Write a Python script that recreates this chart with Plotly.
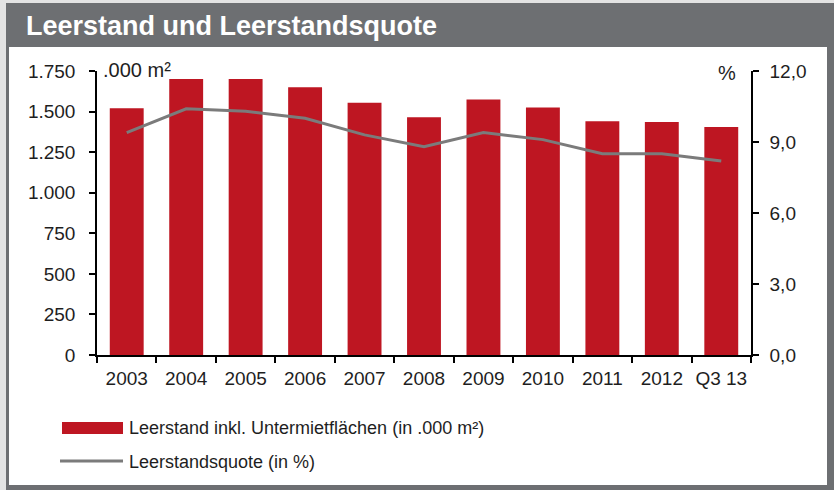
import plotly.graph_objects as go

categories = ["2003", "2004", "2005", "2006", "2007", "2008", "2009", "2010", "2011", "2012", "Q3 13"]
leerstand = [1520, 1700, 1700, 1650, 1555, 1465, 1575, 1525, 1440, 1435, 1405]
quote = [9.4, 10.4, 10.3, 10.0, 9.3, 8.8, 9.4, 9.1, 8.5, 8.5, 8.2]
left_ticks = [0, 250, 500, 750, 1000, 1250, 1500, 1750]
right_ticks = [0, 3, 6, 9, 12]

W, H = 834, 490
L, R, T, B = 97, 83, 71, 135
PW, PH = W - L - R, H - T - B

def px(x):
    return (x - L) / PW

def py(y):
    return (H - B - y) / PH

FONT = "Liberation Sans, Arial, sans-serif"
TXT = "#1e1e1e"
RED = "#be1622"
GREY = "#7b7b7b"
FRAME = "#6d6f72"
TS = 19

fig = go.Figure()
fig.add_trace(go.Bar(x=categories, y=leerstand, marker=dict(color=RED, line=dict(width=0)),
                     name="Leerstand inkl. Untermietflächen (in .000 m²)", showlegend=False))
fig.add_trace(go.Scatter(x=categories, y=quote, yaxis="y2", mode="lines",
                         line=dict(color=GREY, width=3), name="Leerstandsquote (in %)", showlegend=False))

shapes = [
    dict(type="rect", xref="paper", yref="paper", x0=px(0), x1=px(W), y0=py(H), y1=py(0),
         fillcolor="#e3e3e3", line=dict(width=0), layer="below"),
    dict(type="rect", xref="paper", yref="paper", x0=px(6), x1=px(W), y0=py(H), y1=py(3),
         fillcolor=FRAME, line=dict(width=0), layer="below"),
    dict(type="rect", xref="paper", yref="paper", x0=px(9), x1=px(827), y0=py(485), y1=py(47),
         fillcolor="white", line=dict(width=0), layer="below"),
    dict(type="rect", xref="paper", yref="paper", x0=px(62), x1=px(123), y0=py(434), y1=py(422),
         fillcolor=RED, line=dict(width=0)),
    dict(type="line", xref="paper", yref="paper", x0=px(60), x1=px(123), y0=py(461), y1=py(461),
         line=dict(color=GREY, width=3)),
]

annotations = [
    dict(text="<b>Leerstand und Leerstandsquote</b>", xref="paper", yref="paper", x=px(24), y=py(26),
         xanchor="left", yanchor="middle", showarrow=False,
         font=dict(family=FONT, size=27, color="white")),
    dict(text=".000 m²", xref="paper", yref="paper", x=px(101), y=py(70),
         xanchor="left", yanchor="middle", showarrow=False, font=dict(family=FONT, size=20, color=TXT)),
    dict(text="%", xref="paper", yref="paper", x=px(738), y=py(73),
         xanchor="right", yanchor="middle", showarrow=False, font=dict(family=FONT, size=20, color=TXT)),
    dict(text="Leerstand inkl. Untermietflächen (in .000 m²)", xref="paper", yref="paper", x=px(127), y=py(428),
         xanchor="left", yanchor="middle", showarrow=False, font=dict(family=FONT, size=18, color=TXT)),
    dict(text="Leerstandsquote (in %)", xref="paper", yref="paper", x=px(127), y=py(462),
         xanchor="left", yanchor="middle", showarrow=False, font=dict(family=FONT, size=18, color=TXT)),
]

axis_common = dict(showline=True, linecolor="black", linewidth=1.5, ticks="outside", ticklen=6,
                   tickcolor="black", tickwidth=1.5, showgrid=False)

fig.update_layout(
    width=W, height=H,
    margin=dict(l=L, r=R, t=T, b=B, pad=0),
    paper_bgcolor="white", plot_bgcolor="rgba(0,0,0,0)",
    separators=",.",
    bargap=0.43,
    shapes=shapes, annotations=annotations,
    font=dict(family=FONT, size=TS, color=TXT),
    xaxis=dict(type="category", tickson="boundaries", tickangle=0,
               tickfont=dict(family=FONT, size=TS, color=TXT), ticklabelstandoff=5, **axis_common),
    yaxis=dict(range=[0, 1750], tickvals=left_ticks, tickformat=",d", zeroline=False,
               tickfont=dict(family=FONT, size=TS, color=TXT), ticklabelstandoff=10, **axis_common),
    yaxis2=dict(range=[0, 12], tickvals=right_ticks, tickformat=".1f", overlaying="y", side="right",
                zeroline=False, tickfont=dict(family=FONT, size=TS, color=TXT), ticklabelstandoff=7,
                **axis_common),
)

fig.write_html("out.html", config={"displayModeBar": False},
               post_script="document.body.style.margin='0';document.body.style.overflow='hidden';")
